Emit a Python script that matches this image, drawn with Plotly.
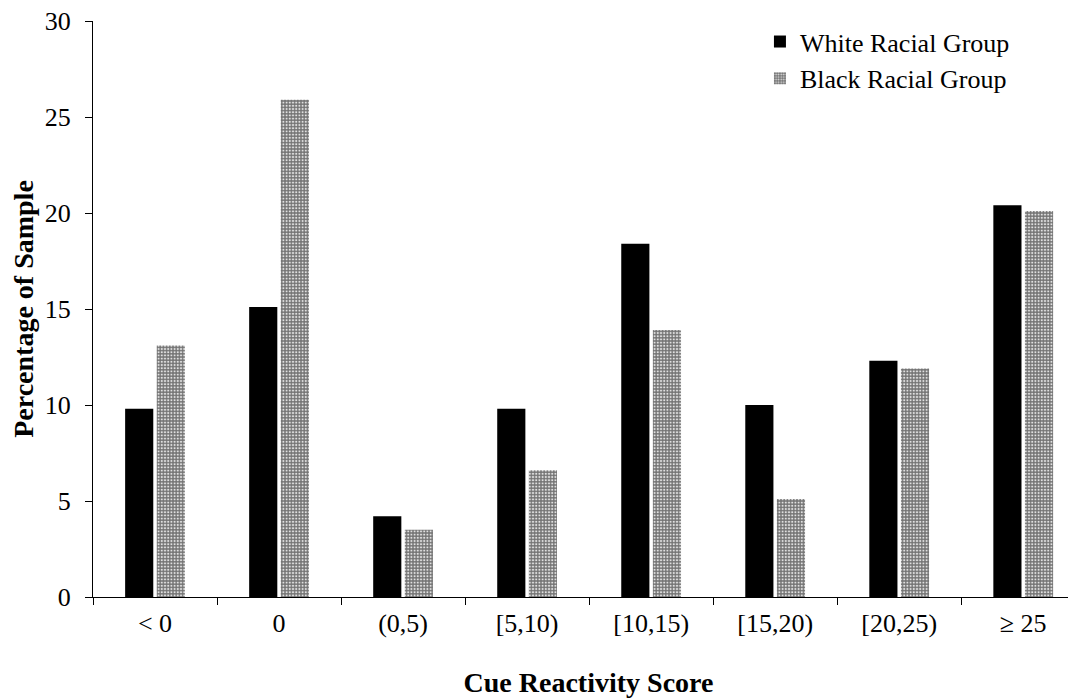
import plotly.graph_objects as go

categories = ["< 0", "0", "(0,5)", "[5,10)", "[10,15)", "[15,20)", "[20,25)", "≥ 25"]
white_vals = [9.8, 15.1, 4.2, 9.8, 18.4, 10.0, 12.3, 20.4]
black_vals = [13.1, 25.9, 3.5, 6.6, 13.9, 5.1, 11.9, 20.1]
series_names = ["White Racial Group", "Black Racial Group"]

FONT = "Liberation Serif"

fig = go.Figure()
fig.add_trace(go.Bar(
    x=categories, y=white_vals, name=series_names[0],
    marker=dict(color="black", line=dict(width=0)),
))
fig.add_trace(go.Bar(
    x=categories, y=black_vals, name=series_names[1],
    marker=dict(
        color="#8a8a8a", line=dict(width=0),
        pattern=dict(shape=".", bgcolor="#747474", fgcolor="#e0e0e0",
                     size=3.2, solidity=0.35, fillmode="replace"),
    ),
))

fig.update_layout(
    width=1076, height=700,
    margin=dict(l=85, r=0, t=13, b=111, autoexpand=False),
    paper_bgcolor="white", plot_bgcolor="white",
    barmode="group", bargap=0.49, bargroupgap=0.11,
    font=dict(family=FONT, size=26, color="black"),
    showlegend=True,
    legend=dict(x=0.673, y=1.005, xanchor="left", yanchor="top",
                font=dict(family=FONT, size=26, color="black"),
                bgcolor="rgba(0,0,0,0)", itemwidth=30, tracegroupgap=6),
    xaxis=dict(
        type="category", range=[-0.5, 7.49], automargin=False,
        showline=True, linecolor="black", linewidth=1.2,
        ticks="outside", tickson="boundaries", ticklen=7, tickcolor="black",
        tickfont=dict(family=FONT, size=26), ticklabelstandoff=3,
        ticklabeloverflow="allow",
        showgrid=False, zeroline=False,
        title=dict(text="<b>Cue Reactivity Score</b>", font=dict(family=FONT, size=28), standoff=35),
    ),
    yaxis=dict(
        range=[0, 30], tickvals=[0, 5, 10, 15, 20, 25, 30], automargin=False,
        showline=True, linecolor="black", linewidth=1.2,
        ticks="outside", ticklen=7, tickcolor="black",
        tickfont=dict(family=FONT, size=26), ticklabelstandoff=9,
        ticklabeloverflow="allow",
        showgrid=False, zeroline=False,
        title=dict(text="<b>Percentage of Sample</b>", font=dict(family=FONT, size=28), standoff=6),
    ),
)

fig.write_html("out.html")
